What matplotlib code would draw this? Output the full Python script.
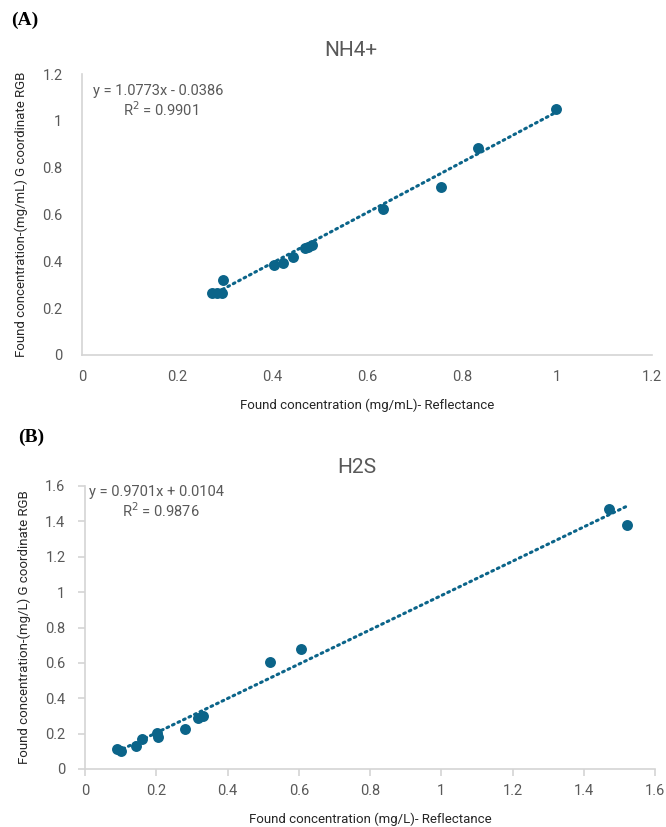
import numpy as np
import matplotlib.pyplot as plt

plt.rcParams['font.family'] = ['Roboto', 'DejaVu Sans']

# NH4+ panel (mg/mL)
nh4_x = [0.273, 0.284, 0.294, 0.296, 0.405, 0.4225, 0.4435, 0.470, 0.476, 0.484, 0.634, 0.755, 0.833, 0.998]
nh4_y = [0.266, 0.266, 0.266, 0.320, 0.385, 0.392, 0.417, 0.456, 0.463, 0.471, 0.624, 0.716, 0.886, 1.051]
nh4_fit = (1.0773, -0.0386)
nh4_eq = "y = 1.0773x - 0.0386"
nh4_r2 = "R$^2$ = 0.9901"

# H2S panel (mg/L)
h2s_x = [0.091, 0.101, 0.143, 0.159, 0.203, 0.206, 0.281, 0.318, 0.330, 0.520, 0.607, 1.471, 1.520]
h2s_y = [0.113, 0.102, 0.130, 0.170, 0.202, 0.179, 0.226, 0.286, 0.301, 0.603, 0.677, 1.470, 1.378]
h2s_fit = (0.9701, 0.0104)
h2s_eq = "y = 0.9701x + 0.0104"
h2s_r2 = "R$^2$ = 0.9876"

W, H = 666, 827
col = '#0b6489'
grey = '#595959'
spine = '#d4d4d4'

fig = plt.figure(figsize=(W/100, H/100), dpi=100)

def px(l, t, r, b):
    return [l/W, 1-b/H, (r-l)/W, (b-t)/H]

def panel(rect, xs, ys, fit, xmax, ymax, xlab, ylab, ticklen):
    ax = fig.add_axes(px(*rect))
    ax.scatter(xs, ys, s=62, color=col, zorder=3, linewidths=0)
    xf = np.array([min(xs), max(xs)])
    ax.plot(xf, fit[0]*xf + fit[1], color=col, lw=2.2, linestyle=(0, (0.6, 1.4)),
            dash_capstyle='round', zorder=2)
    ax.set_xlim(0, xmax)
    ax.set_ylim(0, ymax)
    xt = np.arange(0, xmax + 0.01, 0.2)
    yt = np.arange(0, ymax + 0.01, 0.2)
    ax.set_xticks(xt)
    ax.set_yticks(yt)
    ax.set_xticklabels(['%g' % round(v, 1) for v in xt])
    ax.set_yticklabels(['%g' % round(v, 1) for v in yt])
    for s in ['top', 'right']:
        ax.spines[s].set_visible(False)
    for s in ['left', 'bottom']:
        ax.spines[s].set_color(spine)
        ax.spines[s].set_linewidth(1.2)
    ax.tick_params(colors=spine, labelcolor=grey, labelsize=10.5, length=ticklen, width=1.2)
    ax.tick_params(axis='x', pad=11 - ticklen)
    ax.tick_params(axis='y', pad=14 - ticklen)
    ax.set_xlabel(xlab, fontsize=9.5, color='#262626', labelpad=10)
    ax.set_ylabel(ylab, fontsize=9.5, color='#262626', labelpad=10)
    return ax

ax1 = panel((82, 74, 652, 355), nh4_x, nh4_y, nh4_fit, 1.2, 1.2,
            "Found concentration (mg/mL)- Reflectance",
            "Found concentration-(mg/mL) G coordinate RGB", 0)
ax2 = panel((85, 486, 655, 769), h2s_x, h2s_y, h2s_fit, 1.6, 1.6,
            "Found concentration (mg/L)- Reflectance",
            "Found concentration-(mg/L) G coordinate RGB", 5)

fig.text(93/W, 1-91/H, nh4_eq, fontsize=10.5, color=grey, va='center')
fig.text(123/W, 1-110/H, nh4_r2, fontsize=10.5, color=grey, va='center')
fig.text(89/W, 1-492/H, h2s_eq, fontsize=10.5, color=grey, va='center')
fig.text(122/W, 1-511/H, h2s_r2, fontsize=10.5, color=grey, va='center')

fig.text(351/W, 1-50/H, "NH4+", fontsize=15, color=grey, ha='center', va='center')
fig.text(357/W, 1-467/H, "H2S", fontsize=15, color=grey, ha='center', va='center')

fig.text(11/W, 1-20/H, "(A)", fontsize=14, fontweight='bold', family='Liberation Serif', va='center')
fig.text(18/W, 1-437/H, "(B)", fontsize=14, fontweight='bold', family='Liberation Serif', va='center')

plt.savefig("out.png", dpi=100)
